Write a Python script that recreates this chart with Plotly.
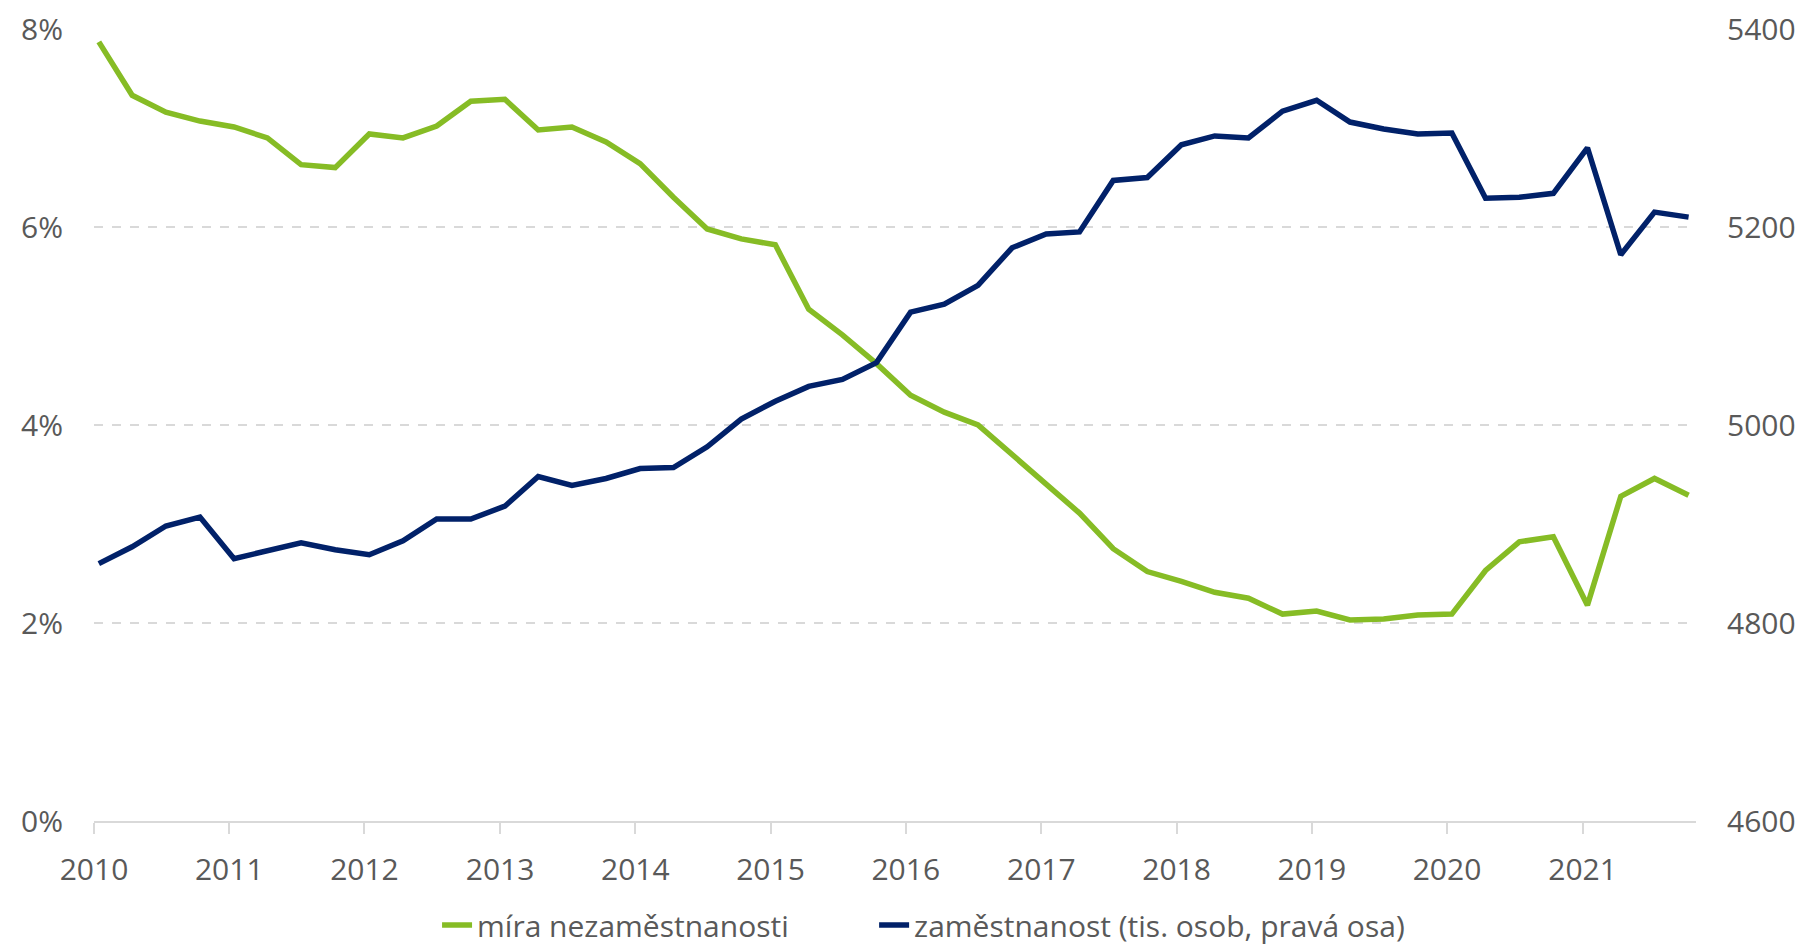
import plotly.graph_objects as go

years = list(range(2010, 2022))
quarter_months = [1, 4, 7, 10]
dates = [f"{y}-{m:02d}-14" for y in years for m in quarter_months]

unemployment = [7.87, 7.33, 7.16, 7.07, 7.01, 6.90, 6.63, 6.60,
                6.94, 6.90, 7.02, 7.27, 7.29, 6.98, 7.01, 6.86,
                6.64, 6.30, 5.98, 5.88, 5.82, 5.17, 4.91, 4.62,
                4.30, 4.13, 4.00, 3.70, 3.41, 3.11, 2.75, 2.52,
                2.42, 2.31, 2.25, 2.09, 2.12, 2.03, 2.04, 2.08,
                2.09, 2.53, 2.82, 2.87, 2.18, 3.28, 3.46, 3.29]

employment = [4860, 4877, 4898, 4907, 4865, 4873, 4881, 4874,
              4869, 4883, 4905, 4905, 4918, 4948, 4939, 4946,
              4956, 4957, 4978, 5006, 5024, 5039, 5046, 5063,
              5114, 5122, 5141, 5179, 5193, 5195, 5247, 5250,
              5283, 5292, 5290, 5317, 5328, 5306, 5299, 5294,
              5295, 5229, 5230, 5234, 5280, 5172, 5215, 5210]

left_ticks = [0, 2, 4, 6, 8]
left_labels = ["0%", "2%", "4%", "6%", "8%"]
right_ticks = [4600, 4800, 5000, 5200, 5400]

name_u = "míra nezaměstnanosti"
name_e = "zaměstnanost (tis. osob, pravá osa)"

GREEN = "#86BC25"
BLUE = "#012169"
TXT = "#595959"
GRID = "#D9D9D9"
FONT = "Open Sans"
FS = 30

fig = go.Figure()
fig.add_trace(go.Scatter(x=dates, y=unemployment, name=name_u, mode="lines",
                         line=dict(color=GREEN, width=5.5), yaxis="y", legend="legend"))
fig.add_trace(go.Scatter(x=dates, y=employment, name=name_e, mode="lines",
                         line=dict(color=BLUE, width=5.5), yaxis="y2", legend="legend2"))

leg_common = dict(orientation="h", xref="container", yref="container",
                  xanchor="left", yanchor="bottom", y=-0.004,
                  font=dict(size=FS, color=TXT), bgcolor="rgba(0,0,0,0)")

fig.update_layout(
    width=1806, height=951,
    margin=dict(l=94, r=110, t=29, b=130),
    paper_bgcolor="white", plot_bgcolor="white",
    font=dict(family=FONT, size=FS, color=TXT),
    showlegend=True,
    legend=dict(x=0.242, **leg_common),
    legend2=dict(x=0.484, **leg_common),
    xaxis=dict(type="date", range=["2010-01-01", "2021-11-03"],
               tick0="2010-01-01", dtick="M12", tickformat="%Y",
               showgrid=False, zeroline=False, automargin=False,
               showline=True, linecolor=GRID, linewidth=2,
               ticks="outside", ticklen=11, tickcolor=GRID, tickwidth=2,
               ticklabelstandoff=10,
               tickfont=dict(size=FS, color=TXT)),
    yaxis=dict(range=[0, 8], tickvals=left_ticks, ticktext=left_labels,
               showgrid=True, gridcolor=GRID, griddash="dash", gridwidth=1.5,
               zeroline=False, showline=False, ticks="", automargin=False,
               ticklabelstandoff=30, tickfont=dict(size=FS, color=TXT)),
    yaxis2=dict(range=[4600, 5400], tickvals=right_ticks, overlaying="y", side="right",
                showgrid=False, zeroline=False, showline=False, ticks="",
                automargin=False,
                ticklabelstandoff=30, tickfont=dict(size=FS, color=TXT)),
)

fig.write_html("out.html", config={"displayModeBar": False},
               post_script="document.body.style.margin='0';document.body.style.overflow='hidden';")
